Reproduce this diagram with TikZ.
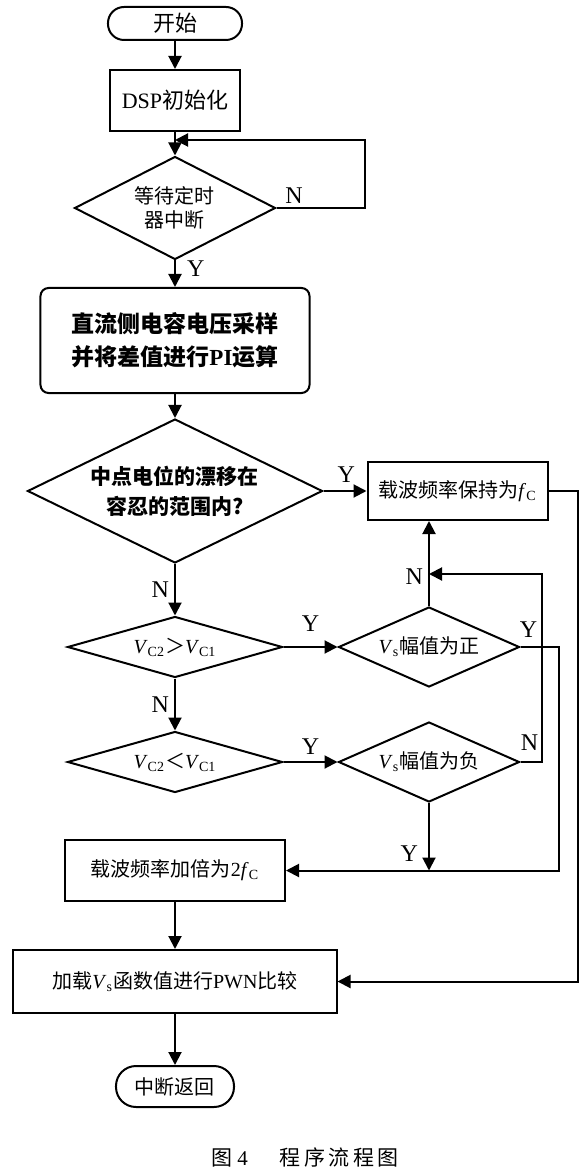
\documentclass[tikz,border=0pt]{standalone}
\usepackage{fontspec}
\setmainfont{Liberation Serif}
\newfontfamily\zh{Noto Sans CJK SC}
\newcommand{\cn}[1]{{\zh #1}}
\usetikzlibrary{arrows.meta,shapes.geometric,positioning}

\tikzset{
  arr/.style={line width=1pt,-{Triangle[length=6.5pt,width=6.5pt]}},
  proc/.style={draw,line width=1pt,rectangle,inner sep=0pt,align=center},
  term/.style={proc,rounded corners=8pt},
  dec/.style={draw,line width=1pt,diamond,inner sep=0pt,align=center},
  yn/.style={font=\fontsize{12}{12}\selectfont,inner sep=2.5pt}
}

\begin{document}
\begin{tikzpicture}[node distance=40pt,font=\fontsize{10}{12}\selectfont]
    \useasboundingbox (-87.5pt,11.75pt) rectangle (206.5pt,-576.25pt);

    \node[term,minimum width=67pt,minimum height=16.5pt,font=\fontsize{11}{12}\selectfont]  (start) []                                  {\cn{开始}};
    \node[proc,minimum width=65pt,minimum height=30.5pt,font=\fontsize{11}{12}\selectfont]  (dsp)   [below of=start,node distance=38.5pt]  {DSP\cn{初始化}};
    \node[dec,minimum width=100.5pt,minimum height=51.5pt,aspect=2]  (wait)  [below of=dsp,node distance=53.75pt]   {\cn{等待定时}\\\cn{器中断}};
    \node[proc,rounded corners=4pt,minimum width=134.5pt,minimum height=52.5pt,
          font=\bfseries\fontsize{11.5}{16.5}\selectfont]              (sample) [below of=wait,node distance=66.25pt] {\cn{直流侧电容电压采样}\\\cn{并将差值进行}PI\cn{运算}};
    \node[dec,minimum width=147.5pt,minimum height=72pt,aspect=2,
          font=\bfseries\fontsize{10.5}{15}\selectfont]                (drift) [below of=sample,node distance=75.25pt] {\cn{中点电位的漂移在}\\\cn{容忍的范围内?}};
    \node[dec,minimum width=107.5pt,minimum height=30.5pt,aspect=3.5] (gt)    [below of=drift,node distance=78pt]     {\textit{V}\textsubscript{C2}\cn{＞}\textit{V}\textsubscript{C1}};
    \node[dec,minimum width=107.5pt,minimum height=30.5pt,aspect=3.5] (lt)    [below of=gt,node distance=57.5pt]      {\textit{V}\textsubscript{C2}\cn{＜}\textit{V}\textsubscript{C1}};
    \node[proc,minimum width=110pt,minimum height=30.5pt]            (dbl)   [below of=lt,node distance=54.25pt]     {\cn{载波频率加倍为}2\textit{f}\textsubscript{C}};
    \node[proc,minimum width=161.5pt,minimum height=31.5pt]          (load)  [below of=dbl,node distance=55.5pt]     {\cn{加载}\textit{V}\textsubscript{s}\cn{函数值进行}PWN\cn{比较}};
    \node[term,rounded corners=10pt,minimum width=59pt,minimum height=20.5pt] (ret) [below of=load,node distance=52.5pt] {\cn{中断返回}};

    \node[proc,minimum width=90pt,minimum height=29pt]               (keep)  [right of=drift,node distance=141.25pt] {\cn{载波频率保持为}\textit{f}\textsubscript{C}};
    \node[dec,minimum width=90.5pt,minimum height=40pt,aspect=2.3]   (pos)   [right of=gt,node distance=127pt]       {\textit{V}\textsubscript{s}\cn{幅值为正}};
    \node[dec,minimum width=90.5pt,minimum height=40pt,aspect=2.3]   (neg)   [right of=lt,node distance=127pt]       {\textit{V}\textsubscript{s}\cn{幅值为负}};

    \node[font=\fontsize{10.5}{12}\selectfont] (caption) at (65pt,-566.75pt) {\cn{图}~4\hspace{16pt}\cn{程}\,\cn{序}\,\cn{流}\,\cn{程}\,\cn{图}};

    \coordinate (loopin) at ([yshift=-4pt]dsp.south);
    \coordinate (njoin)  at ([yshift=16pt]pos.north);

    \path[arr]  (start)  edge                                            (dsp)
                (dsp)    edge                                            (wait)
                (wait)   edge node[yn,right,pos=0.3,xshift=3pt] {Y}     (sample)
                (sample) edge                                            (drift)
                (drift)  edge node[yn,above,pos=0.53,yshift=1.5pt] {Y}  (keep)
                (drift)  edge node[yn,left] {N}                          (gt)
                (gt)     edge node[yn,left] {N}                          (lt)
                (gt)     edge node[yn,above,yshift=5pt] {Y}              (pos)
                (lt)     edge node[yn,above,yshift=1pt] {Y}              (neg)
                (dbl)    edge                                            (load)
                (load)   edge                                            (ret)
                ;

    \draw[arr] (wait.east) -- node[yn,above,pos=0.2,yshift=-1pt] {N} ++(44pt,0) |- (loopin);
    \draw[arr] (pos.north) -- node[yn,left,pos=0.34] {N} (pos.north |- keep.south);
    \draw[arr] (neg.east) -- node[yn,above,pos=0.43,yshift=3pt] {N} ++(10.5pt,0) |- (njoin);
    \draw[arr] (pos.east) -- node[yn,above,pos=0.21,yshift=2pt] {Y} ++(19pt,0) |- (dbl.east);
    \draw[arr] (neg.south) -- node[yn,left,pos=0.75,xshift=-2.5pt] {Y} (neg.south |- dbl.east);
    \draw[arr] (keep.east) -- ++(14.5pt,0) |- (load.east);
\end{tikzpicture}
\end{document}
